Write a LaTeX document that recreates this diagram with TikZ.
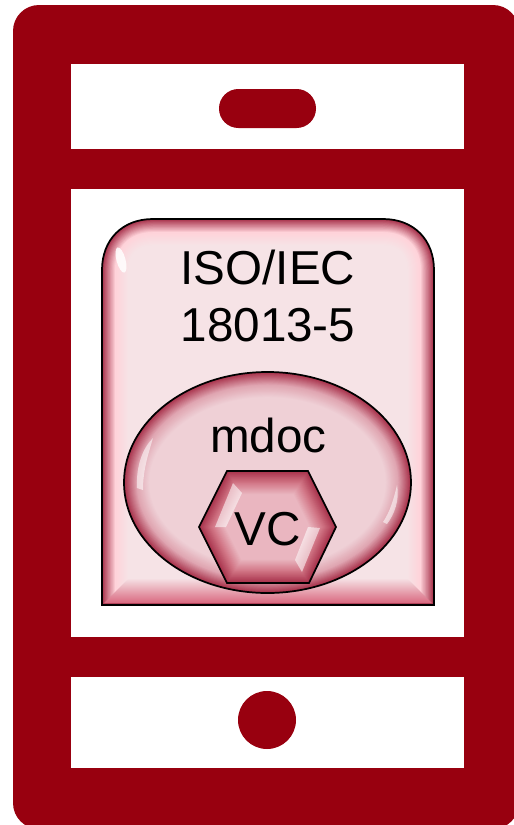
\documentclass[tikz,border=0pt]{standalone}
\usepackage{fontspec}
\setmainfont{Liberation Sans}
\usepackage{tikz}

\definecolor{phonered}{HTML}{98000F}
\definecolor{bevelred}{HTML}{A8324B}
\definecolor{cardface}{HTML}{F6E3E6}
\definecolor{cardpeak}{HTML}{FFD3DA}
\definecolor{cardlow}{HTML}{D9687F}
\definecolor{ovalface}{HTML}{EFD0D6}
\definecolor{ovalpeak}{HTML}{E0A5B1}
\definecolor{hexface}{HTML}{EAB6C0}
\definecolor{hexpeak}{HTML}{D27686}

\tikzset{
    x=0.75pt, y=-0.75pt,
    label text/.style={font=\fontsize{35.7}{42.75}\selectfont, text=black, inner sep=0pt},
    outline/.style={draw=black, line width=1.3pt},
    shine/.style={fill=white, fill opacity=0.55, draw=none}
}

\newcommand{\bevelshape}[5]{
    \begin{scope}
        \clip #1;
        \fill[#2] #1;
        \foreach \i in {0,1,...,24}{
            \pgfmathsetmacro{\mixlow}{min(100,\i/12*100)}
            \pgfmathsetmacro{\mixhigh}{max(0,(\i-12)/12*100)}
            \ifnum\i<13
                \colorlet{stepcol}{#3!\mixlow!#2}
            \else
                \colorlet{stepcol}{#4!\mixhigh!#3}
            \fi
            \draw[line width={2*#5*(1-\i/25)*0.75pt}, draw=stepcol] #1;
        }
    \end{scope}
}

\def\cardpath{(102,605) -- (102,270) .. controls (102,240) and (122,219) .. (153,219) -- (383,219) .. controls (414,219) and (434,240) .. (434,270) -- (434,605) -- cycle}
\def\ovalpath{(267.5,482.5) ellipse [x radius=143.5, y radius=110.5]}
\def\hexpath{(227,471) -- (308,471) -- (336,527) -- (309,583) -- (227,583) -- (199,527) -- cycle}

\begin{document}
\begin{tikzpicture}
    \clip (0,0) rectangle (514,825);
    \fill[white] (0,0) rectangle (514,825);

    % phone body
    \fill[phonered, rounded corners=26*0.75pt] (13,5) rectangle (519,829);
    \fill[white] (71,64) rectangle (464,149);
    \fill[white] (71,189) rectangle (464,637);
    \fill[white] (71,677) rectangle (464,768);
    \fill[phonered, rounded corners=19.4*0.75pt] (219,89) rectangle (316,128);
    \fill[phonered] (267,720) circle [radius=29];

    % card
    \bevelshape{\cardpath}{cardface}{cardpeak}{bevelred}{27}
    \shade[top color=cardface, bottom color=cardlow] (104,603) -- (129,578) -- (407,578) -- (432,603) -- cycle;
    \fill[white, fill opacity=0.85, rotate around={15:(121,260)}] (121,260) ellipse [x radius=4.5, y radius=13];
    \draw[outline] \cardpath;

    % oval
    \bevelshape{\ovalpath}{ovalface}{ovalpeak}{bevelred}{26}
    \fill[shine] (137,488) .. controls (136,465) and (143,448) .. (153,438) .. controls (148,455) and (143,470) .. (143,490) -- cycle;
    \fill[shine] (383,522) .. controls (390,512) and (394,498) .. (397,485) .. controls (400,500) and (394,515) .. (387,524) -- cycle;
    \draw[outline] \ovalpath;

    % hexagon
    \bevelshape{\hexpath}{hexface}{hexpeak}{bevelred}{24}
    \fill[shine] (215,527) -- (226,527) -- (242,493) -- (233,483) -- cycle;
    \fill[shine] (295,560) -- (302,572) -- (320,528) -- (308,527) -- cycle;
    \draw[outline] \hexpath;

    \node[label text, align=center, anchor=center] (isotext) at (268,296) {ISO/IEC\\18013-5};
    \node[label text, anchor=base] (mdoctext) at (268.5,452) {mdoc};
    \node[label text, anchor=base] (vctext) at (268,545) {VC};
\end{tikzpicture}
\end{document}
